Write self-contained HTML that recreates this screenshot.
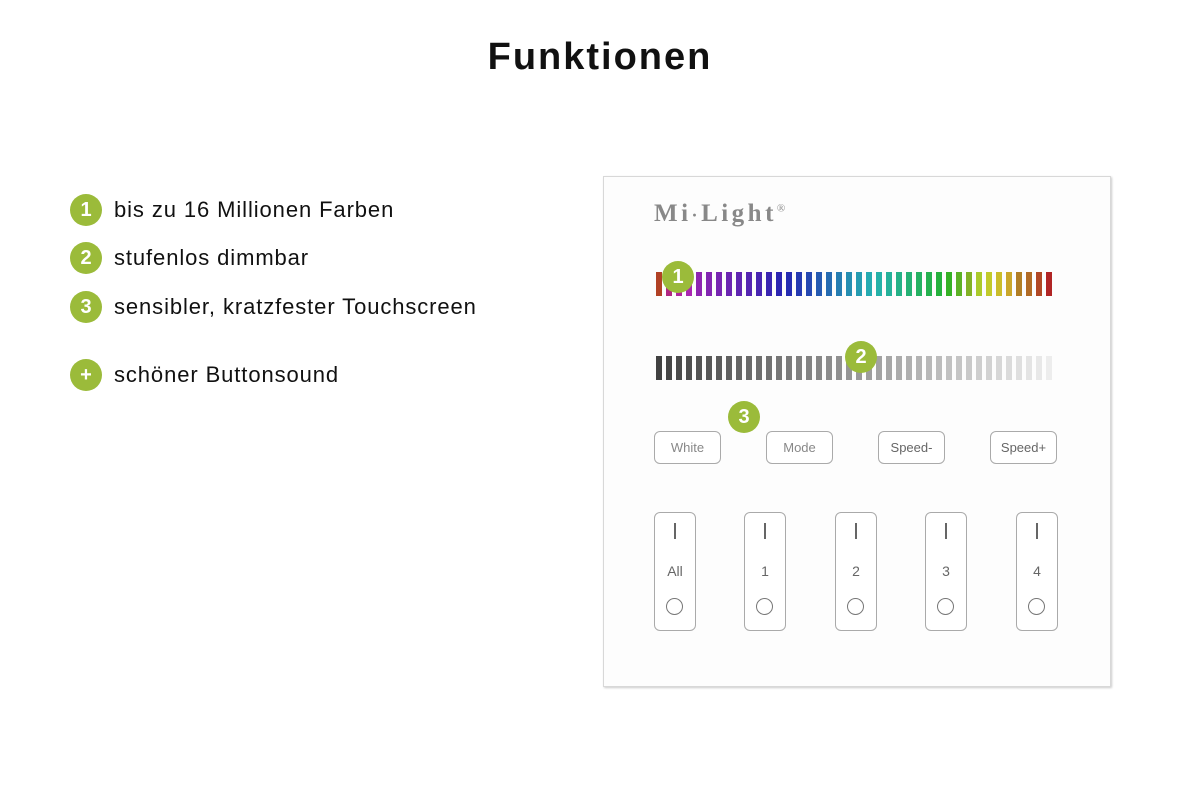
<!DOCTYPE html>
<html><head><meta charset="utf-8"><style>
body{margin:0;width:1200px;height:800px;background:#fff;position:relative;overflow:hidden;font-family:"Liberation Sans","DejaVu Sans",sans-serif}
.a{position:absolute}
h1{position:absolute;left:0;width:1200px;top:36px;margin:0;text-align:center;font-size:38px;font-weight:bold;color:#111;letter-spacing:2px}
.li{position:absolute;left:70px;font-size:22px;color:#111;height:32px;line-height:32px;letter-spacing:0.9px}
.dot{position:absolute;width:32px;height:32px;border-radius:50%;background:#9bbb3a;color:#fff;font-weight:bold;font-size:20px;text-align:center;line-height:32px;letter-spacing:0}
.li .dot{left:0;top:0}
.li span{position:absolute;left:44px;white-space:nowrap}
.panel{left:603px;top:176px;width:506px;height:509px;border:1.5px solid #d8d8d8;box-shadow:1px 1px 2px #ccc;background:#fdfdfd}
.bar{position:absolute;width:6px;height:24px}
.btn{position:absolute;width:65px;height:31px;border:1.5px solid #aaa;border-radius:6px;text-align:center;line-height:31px;font-size:13px;color:#888;background:#fff}
.tb{position:absolute;top:512px;width:40px;height:117px;border:1.5px solid #aaa;border-radius:6px;background:#fff}
.tb .l{position:absolute;left:19px;top:10px;width:2px;height:16px;background:#666}
.tb .n{position:absolute;left:0;width:40px;top:50px;text-align:center;font-size:14px;color:#666}
.tb .c{position:absolute;left:11px;top:85px;width:15px;height:15px;border:1.5px solid #777;border-radius:50%}
</style></head><body>
<h1>Funktionen</h1>
<div class="li" style="top:194px"><div class="dot">1</div><span>bis zu 16 Millionen Farben</span></div>
<div class="li" style="top:242px"><div class="dot">2</div><span>stufenlos dimmbar</span></div>
<div class="li" style="top:291px"><div class="dot">3</div><span>sensibler, kratzfester Touchscreen</span></div>
<div class="li" style="top:359px"><div class="dot">+</div><span>schöner Buttonsound</span></div>

<div class="a panel"></div>
<div class="a" style="left:654px;top:200px;font-family:'Liberation Serif',serif;font-weight:bold;font-size:25px;color:#888;letter-spacing:3.5px">Mi<span style="font-size:18px">·</span>Light<sup style="font-size:11px;font-weight:normal">®</sup></div>
<div id="bars"></div>
<div class="btn" style="left:654px;top:431px">White</div>
<div class="btn" style="left:766px;top:431px">Mode</div>
<div class="btn" style="left:878px;top:431px;color:#666">Speed-</div>
<div class="btn" style="left:990px;top:431px;color:#666">Speed+</div>
<div class="tb" style="left:654px"><div class="l"></div><div class="n">All</div><div class="c"></div></div>
<div class="tb" style="left:744px"><div class="l"></div><div class="n">1</div><div class="c"></div></div>
<div class="tb" style="left:835px"><div class="l"></div><div class="n">2</div><div class="c"></div></div>
<div class="tb" style="left:925px"><div class="l"></div><div class="n">3</div><div class="c"></div></div>
<div class="tb" style="left:1016px"><div class="l"></div><div class="n">4</div><div class="c"></div></div>
<div class="dot" style="left:662px;top:261px;z-index:2">1</div>
<div class="dot" style="left:845px;top:341px;z-index:2">2</div>
<div class="dot" style="left:728px;top:401px;z-index:2">3</div>
<script>
var stops=[[0,12],[1,320],[4,285],[10,255],[15,225],[19,195],[23,170],[28,130],[31,80],[34,55],[37,30],[39,0]];
function hueAt(i){for(var k=0;k<stops.length-1;k++){var a=stops[k],b=stops[k+1];if(i>=a[0]&&i<=b[0]){return a[1]+(b[1]-a[1])*(i-a[0])/(b[0]-a[0]);}}return 0;}
var h='';
for(var i=0;i<40;i++){
 var x=656+i*10;
 var hue=hueAt(i);
 var l=(hue>40&&hue<80)?48:42;
 h+='<div class="bar" style="left:'+x+'px;top:272px;background:hsl('+hue+',65%,'+l+'%)"></div>';
 var g=Math.round(65+i*4.4);
 h+='<div class="bar" style="left:'+x+'px;top:356px;background:rgb('+g+','+g+','+g+')"></div>';
}
document.getElementById('bars').innerHTML=h;
</script>
</body></html>
